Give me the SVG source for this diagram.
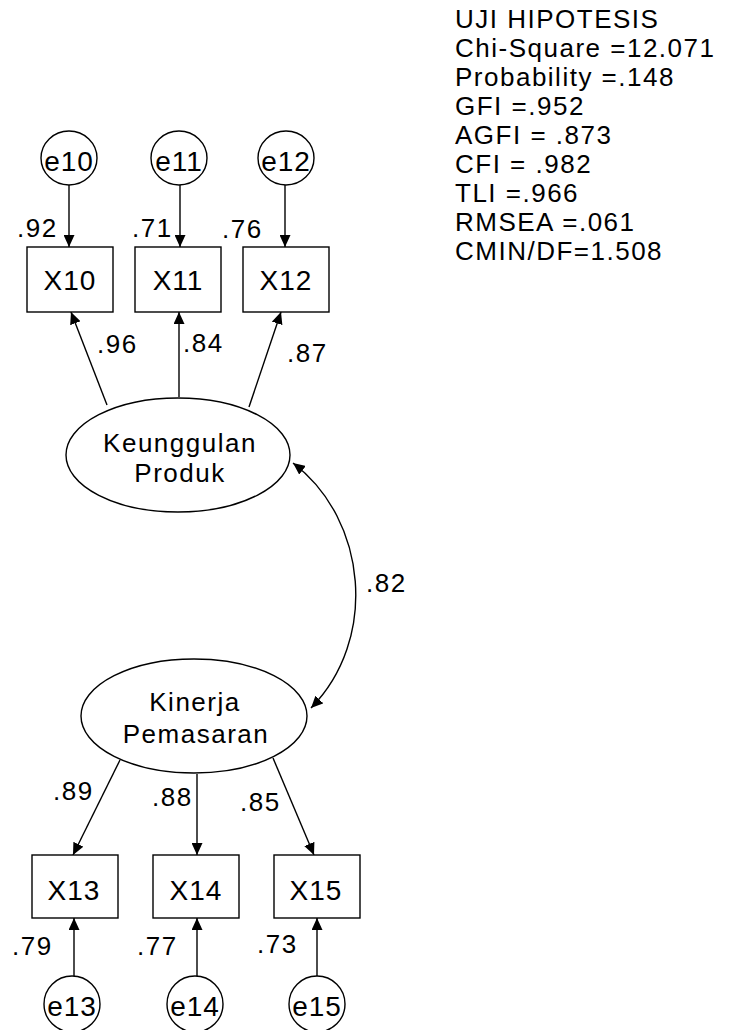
<svg xmlns="http://www.w3.org/2000/svg" width="729" height="1030" viewBox="0 0 729 1030">
<style>
  text { font-family: "Liberation Sans", Arial, sans-serif; font-size: 26px; letter-spacing: 1.5px; fill: #000; }
  .c { text-anchor: middle; }
  .n { font-size: 28px; letter-spacing: 1px; }
  .shape { fill: #fff; stroke: #000; stroke-width: 1.4; }
  .edge { fill: none; stroke: #000; stroke-width: 1.4; }
</style>
<defs>
  <marker id="ah" viewBox="0 0 12 11" markerUnits="userSpaceOnUse" markerWidth="12" markerHeight="11" refX="12" refY="5.5" orient="auto-start-reverse">
    <path d="M0,0 L12,5.5 L0,11 z" fill="#000"/>
  </marker>
</defs>
<rect width="729" height="1030" fill="#fff"/>

<g id="connectors">
  <line class="edge" x1="69" y1="185" x2="69" y2="247" marker-end="url(#ah)"/>
  <line class="edge" x1="180" y1="185" x2="180" y2="247" marker-end="url(#ah)"/>
  <line class="edge" x1="285" y1="185" x2="285" y2="247" marker-end="url(#ah)"/>
  <line class="edge" x1="107" y1="405" x2="71" y2="312" marker-end="url(#ah)"/>
  <line class="edge" x1="179" y1="397" x2="179" y2="312" marker-end="url(#ah)"/>
  <line class="edge" x1="249" y1="407" x2="281" y2="312" marker-end="url(#ah)"/>
  <path class="edge" d="M293,463 C368,520 378,640 311,708" marker-start="url(#ah)" marker-end="url(#ah)"/>
  <line class="edge" x1="120" y1="760" x2="73" y2="855" marker-end="url(#ah)"/>
  <line class="edge" x1="197" y1="774" x2="197" y2="855" marker-end="url(#ah)"/>
  <line class="edge" x1="273" y1="758" x2="314" y2="855" marker-end="url(#ah)"/>
  <line class="edge" x1="74" y1="976" x2="74" y2="918" marker-end="url(#ah)"/>
  <line class="edge" x1="197" y1="976" x2="197" y2="918" marker-end="url(#ah)"/>
  <line class="edge" x1="317" y1="976" x2="317" y2="918" marker-end="url(#ah)"/>
  <text x="17" y="237">.92</text>
  <text x="132" y="237">.71</text>
  <text x="222" y="238">.76</text>
  <text x="97" y="353">.96</text>
  <text x="183" y="352">.84</text>
  <text x="287" y="362">.87</text>
  <text x="366" y="592">.82</text>
  <text x="53" y="800">.89</text>
  <text x="152" y="806">.88</text>
  <text x="240" y="811">.85</text>
  <text x="12" y="955">.79</text>
  <text x="137" y="955">.77</text>
  <text x="257" y="953">.73</text>
</g>

<g id="e10"><ellipse class="shape" cx="69" cy="158" rx="28" ry="27"/><text class="c n" x="69" y="171">e10</text></g>
<g id="e11"><ellipse class="shape" cx="179" cy="158" rx="28" ry="27"/><text class="c n" x="179" y="171">e11</text></g>
<g id="e12"><ellipse class="shape" cx="286" cy="158" rx="28" ry="27"/><text class="c n" x="286" y="171">e12</text></g>

<g id="X10"><rect class="shape" x="27" y="247" width="86" height="65"/><text class="c n" x="70" y="290">X10</text></g>
<g id="X11"><rect class="shape" x="135" y="247" width="86" height="65"/><text class="c n" x="178" y="290">X11</text></g>
<g id="X12"><rect class="shape" x="243" y="247" width="86" height="65"/><text class="c n" x="286" y="290">X12</text></g>

<g id="KeunggulanProduk"><ellipse class="shape" cx="178" cy="455" rx="112" ry="57"/>
  <text class="c" x="180" y="452">Keunggulan</text><text class="c" x="180" y="482">Produk</text></g>

<g id="KinerjaPemasaran"><ellipse class="shape" cx="194" cy="716" rx="113" ry="57"/>
  <text class="c" x="195" y="711">Kinerja</text><text class="c" x="196" y="743">Pemasaran</text></g>

<g id="X13"><rect class="shape" x="32" y="855" width="86" height="63"/><text class="c n" x="74" y="900">X13</text></g>
<g id="X14"><rect class="shape" x="153" y="855" width="86" height="63"/><text class="c n" x="196" y="900">X14</text></g>
<g id="X15"><rect class="shape" x="274" y="855" width="86" height="63"/><text class="c n" x="316" y="900">X15</text></g>

<g id="e13"><ellipse class="shape" cx="72" cy="1004" rx="28" ry="28"/><text class="c n" x="72" y="1016">e13</text></g>
<g id="e14"><ellipse class="shape" cx="195" cy="1004" rx="28" ry="28"/><text class="c n" x="195" y="1016">e14</text></g>
<g id="e15"><ellipse class="shape" cx="317" cy="1004" rx="28" ry="28"/><text class="c n" x="317" y="1016">e15</text></g>

<g id="fit-indices">
  <text x="455" y="28">UJI HIPOTESIS</text>
  <text x="455" y="57">Chi-Square =12.071</text>
  <text x="455" y="86">Probability =.148</text>
  <text x="455" y="115">GFI =.952</text>
  <text x="455" y="144">AGFI = .873</text>
  <text x="455" y="173">CFI = .982</text>
  <text x="455" y="202">TLI =.966</text>
  <text x="455" y="231">RMSEA =.061</text>
  <text x="455" y="260">CMIN/DF=1.508</text>
</g>
</svg>
